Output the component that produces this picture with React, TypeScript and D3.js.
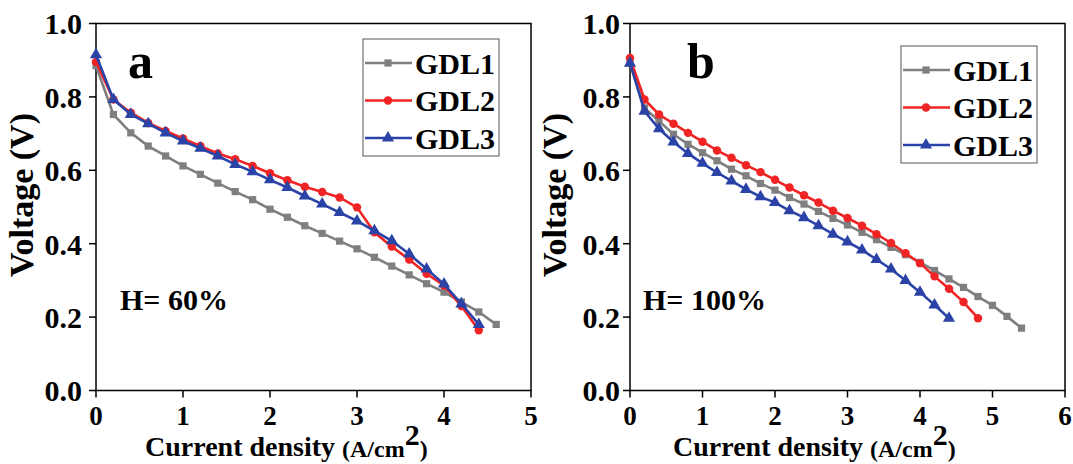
import React from "react";
import * as d3 from "d3";

// ---------- Data ----------
// Panel a (H = 60%)
const aI_GDL1 = [0, 0.2, 0.4, 0.6, 0.8, 1.0, 1.2, 1.4, 1.6, 1.8, 2.0, 2.2, 2.4, 2.6, 2.8, 3.0, 3.2, 3.4, 3.6, 3.8, 4.0, 4.2, 4.4, 4.6];
const aV_GDL1 = [0.885, 0.752, 0.702, 0.666, 0.639, 0.612, 0.589, 0.565, 0.542, 0.520, 0.494, 0.472, 0.449, 0.428, 0.407, 0.386, 0.363, 0.339, 0.315, 0.291, 0.268, 0.241, 0.214, 0.180];
const aI_GDL2 = [0, 0.2, 0.4, 0.6, 0.8, 1.0, 1.2, 1.4, 1.6, 1.8, 2.0, 2.2, 2.4, 2.6, 2.8, 3.0, 3.2, 3.4, 3.6, 3.8, 4.0, 4.2, 4.4];
const aV_GDL2 = [0.895, 0.793, 0.757, 0.729, 0.707, 0.687, 0.666, 0.646, 0.630, 0.612, 0.592, 0.573, 0.555, 0.541, 0.526, 0.499, 0.431, 0.392, 0.357, 0.318, 0.286, 0.230, 0.164];
const aI_GDL3 = [0, 0.2, 0.4, 0.6, 0.8, 1.0, 1.2, 1.4, 1.6, 1.8, 2.0, 2.2, 2.4, 2.6, 2.8, 3.0, 3.2, 3.4, 3.6, 3.8, 4.0, 4.2, 4.4];
const aV_GDL3 = [0.915, 0.793, 0.752, 0.727, 0.702, 0.680, 0.660, 0.639, 0.616, 0.596, 0.574, 0.553, 0.530, 0.508, 0.485, 0.462, 0.435, 0.408, 0.372, 0.331, 0.290, 0.236, 0.180];

// Panel b (H = 100%)
const bI_GDL1 = [0, 0.2, 0.4, 0.6, 0.8, 1.0, 1.2, 1.4, 1.6, 1.8, 2.0, 2.2, 2.4, 2.6, 2.8, 3.0, 3.2, 3.4, 3.6, 3.8, 4.0, 4.2, 4.4, 4.6, 4.8, 5.0, 5.2, 5.4];
const bV_GDL1 = [0.892, 0.770, 0.734, 0.698, 0.671, 0.648, 0.626, 0.603, 0.585, 0.564, 0.546, 0.526, 0.508, 0.488, 0.469, 0.451, 0.431, 0.411, 0.390, 0.370, 0.349, 0.327, 0.304, 0.281, 0.256, 0.232, 0.202, 0.170];
const bI_GDL2 = [0, 0.2, 0.4, 0.6, 0.8, 1.0, 1.2, 1.4, 1.6, 1.8, 2.0, 2.2, 2.4, 2.6, 2.8, 3.0, 3.2, 3.4, 3.6, 3.8, 4.0, 4.2, 4.4, 4.6, 4.8];
const bV_GDL2 = [0.906, 0.793, 0.752, 0.727, 0.702, 0.678, 0.654, 0.634, 0.614, 0.595, 0.574, 0.553, 0.532, 0.512, 0.490, 0.470, 0.449, 0.426, 0.402, 0.374, 0.347, 0.311, 0.277, 0.241, 0.197];
const bI_GDL3 = [0, 0.2, 0.4, 0.6, 0.8, 1.0, 1.2, 1.4, 1.6, 1.8, 2.0, 2.2, 2.4, 2.6, 2.8, 3.0, 3.2, 3.4, 3.6, 3.8, 4.0, 4.2, 4.4];
const bV_GDL3 = [0.892, 0.761, 0.713, 0.677, 0.646, 0.619, 0.594, 0.571, 0.548, 0.528, 0.512, 0.490, 0.471, 0.449, 0.426, 0.405, 0.383, 0.357, 0.331, 0.300, 0.268, 0.233, 0.197];

const seriesNames = ["GDL1", "GDL2", "GDL3"];
const xTicksA = [0, 1, 2, 3, 4, 5];
const xTicksB = [0, 1, 2, 3, 4, 5, 6];
const yTicks = [0.0, 0.2, 0.4, 0.6, 0.8, 1.0];

// ---------- Styles ----------
const COLORS = ["#7f7f7f", "#f02424", "#2b43a6"];
const SYMBOLS = [d3.symbolSquare, d3.symbolCircle, d3.symbolTriangle];
const SYMSIZE = [52, 56, 64];
const FONT = "'Liberation Serif', 'Times New Roman', Times, serif";

type Series = { x: number[]; y: number[] };

function Panel(props: {
  x0: number; x1: number; xMax: number; xTicks: number[];
  series: Series[]; letter: string; hLabel: string;
  labelGap: number; yTitleX: number; xTitleX: number;
  legendX: number; legendY: number; letterX: number; hX: number;
}) {
  const { x0, x1, xMax, xTicks, series, letter, hLabel, labelGap, yTitleX, xTitleX, legendX, legendY, letterX, hX } = props;
  const yTop = 23.5, yBot = 390.5;
  const xs = d3.scaleLinear().domain([0, xMax]).range([x0, x1]);
  const ys = d3.scaleLinear().domain([0, 1]).range([yBot, yTop]);
  const line = d3.line<[number, number]>().x(d => xs(d[0])).y(d => ys(d[1]));
  const tickLen = 7;

  return (
    <g>
      {/* frame */}
      <rect x={x0} y={yTop} width={x1 - x0} height={yBot - yTop} fill="none" stroke="#000" strokeWidth={1.5} />
      {/* y ticks */}
      {yTicks.map(t => (
        <g key={"y" + t}>
          <line x1={x0 - tickLen} x2={x0} y1={ys(t)} y2={ys(t)} stroke="#000" strokeWidth={1.5} />
          <text x={x0 - labelGap} y={ys(t)} dy="0.36em" textAnchor="end" fontFamily={FONT} fontWeight="bold" fontSize={30}>
            {t.toFixed(1)}
          </text>
        </g>
      ))}
      {/* x ticks */}
      {xTicks.map(t => (
        <g key={"x" + t}>
          <line x1={xs(t)} x2={xs(t)} y1={yBot} y2={yBot + tickLen} stroke="#000" strokeWidth={1.5} />
          <text x={xs(t)} y={425} textAnchor="middle" fontFamily={FONT} fontWeight="bold" fontSize={27}>
            {t}
          </text>
        </g>
      ))}
      {/* axis titles */}
      <text transform={`translate(${yTitleX},${195}) rotate(-90)`} textAnchor="middle" fontFamily={FONT} fontWeight="bold" fontSize={34}>
        Voltage (V)
      </text>
      <text x={xTitleX} y={456} fontFamily={FONT} fontWeight="bold" fontSize={28}>
        <tspan>Current density </tspan>
        <tspan fontSize={24} dy={1}>(A/cm</tspan>
        <tspan fontSize={30} dy={-12}>2</tspan>
        <tspan fontSize={24} dy={12}>)</tspan>
      </text>
      {/* series */}
      {series.map((s, i) => {
        const pts: [number, number][] = s.x.map((v, j) => [v, s.y[j]]);
        const sym = d3.symbol().type(SYMBOLS[i]).size(SYMSIZE[i])()!;
        return (
          <g key={"s" + i}>
            <path d={line(pts)!} fill="none" stroke={COLORS[i]} strokeWidth={2.6} />
            {pts.map((p, j) => (
              <path key={j} d={sym} transform={`translate(${xs(p[0])},${ys(p[1])})`} fill={COLORS[i]} />
            ))}
          </g>
        );
      })}
      {/* letter */}
      <text x={letterX} y={78} fontFamily={FONT} fontWeight="bold" fontSize={50}>{letter}</text>
      {/* H label */}
      <text x={hX} y={310} fontFamily={FONT} fontWeight="bold" fontSize={30}>{hLabel}</text>
      {/* legend */}
      <rect x={legendX} y={legendY} width={136} height={117} fill="#fff" stroke="#555" strokeWidth={1} />
      {seriesNames.map((n, i) => {
        const cy = legendY + 24 + i * 37.5;
        const sym = d3.symbol().type(SYMBOLS[i]).size(SYMSIZE[i])()!;
        return (
          <g key={"l" + i}>
            <line x1={legendX + 2} x2={legendX + 49} y1={cy} y2={cy} stroke={COLORS[i]} strokeWidth={2.6} />
            <path d={sym} transform={`translate(${legendX + 25},${cy})`} fill={COLORS[i]} />
            <text x={legendX + 52} y={cy} dy="0.35em" fontFamily={FONT} fontWeight="bold" fontSize={30}>{n}</text>
          </g>
        );
      })}
    </g>
  );
}

export default function App() {
  const seriesA: Series[] = [
    { x: aI_GDL1, y: aV_GDL1 },
    { x: aI_GDL2, y: aV_GDL2 },
    { x: aI_GDL3, y: aV_GDL3 },
  ];
  const seriesB: Series[] = [
    { x: bI_GDL1, y: bV_GDL1 },
    { x: bI_GDL2, y: bV_GDL2 },
    { x: bI_GDL3, y: bV_GDL3 },
  ];
  return (
    <svg width={1073} height={464} style={{ position: "absolute", left: 0, top: 0, background: "#fff" }}>
      <rect width={1073} height={464} fill="#fff" />
      <Panel x0={96} x1={531} xMax={5} xTicks={xTicksA} series={seriesA} letter="a" hLabel="H= 60%"
        labelGap={14} yTitleX={33} xTitleX={145} legendX={363} legendY={39} letterX={128} hX={120} />
      <Panel x0={630} x1={1065} xMax={6} xTicks={xTicksB} series={seriesB} letter="b" hLabel="H= 100%"
        labelGap={10} yTitleX={566} xTitleX={673} legendX={901} legendY={46} letterX={687} hX={643} />
    </svg>
  );
}
